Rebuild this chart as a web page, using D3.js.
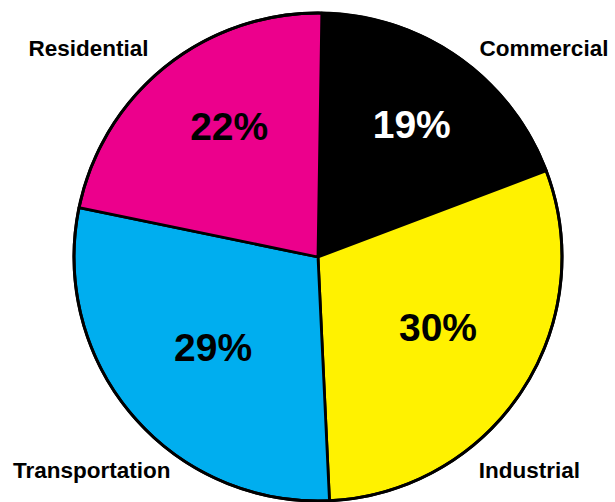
<!DOCTYPE html>
<html>
<head>
<meta charset="utf-8">
<script src="https://cdn.jsdelivr.net/npm/d3@7"></script>
<style>
  html, body { margin: 0; padding: 0; background: #fff; }
  svg { display: block; }
  text { font-family: "Liberation Sans", Arial, Helvetica, sans-serif; font-weight: bold; }
</style>
</head>
<body>
<svg id="chart" width="615" height="502"></svg>
<script>
// Data
const categories = ["Commercial", "Industrial", "Transportation", "Residential"];
const values = [19, 30, 29, 22];
const pctLabels = ["19%", "30%", "29%", "22%"];
const colors = ["#000000", "#FFF200", "#00AEEF", "#EC008C"];
const pctTextColors = ["#ffffff", "#000000", "#000000", "#000000"];

// Layout
const W = 615, H = 502;
const cx = 318, cy = 257, R = 244;
const startDeg = 0.9;
const pctRadius = [163, 139, 138, 158];
const pctAngleOffsetDeg = [0, -3, 0, 4.5];
const catPos = [[544, 56], [529.5, 477.5], [91.7, 477.5], [88.5, 56]];

const svg = d3.select("#chart");
const g = svg.append("g").attr("transform", `translate(${cx},${cy})`);

const start = startDeg * Math.PI / 180;
const pie = d3.pie().sort(null).startAngle(start).endAngle(start + 2 * Math.PI);
const arcs = pie(values);
const arc = d3.arc().innerRadius(0).outerRadius(R);

g.selectAll("path.slice")
  .data(arcs)
  .enter().append("path")
  .attr("class", "slice")
  .attr("d", arc)
  .attr("fill", (d, i) => colors[i])
  .attr("stroke", "#000")
  .attr("stroke-width", 2.8)
  .attr("stroke-linejoin", "round");

g.append("circle")
  .attr("r", R)
  .attr("fill", "none")
  .attr("stroke", "#000")
  .attr("stroke-width", 3);

g.selectAll("text.pct")
  .data(arcs)
  .enter().append("text")
  .attr("class", "pct")
  .attr("transform", (d, i) => {
    const a = (d.startAngle + d.endAngle) / 2 + pctAngleOffsetDeg[i] * Math.PI / 180;
    const x = pctRadius[i] * Math.sin(a), y = -pctRadius[i] * Math.cos(a);
    return `translate(${x},${y})`;
  })
  .attr("text-anchor", "middle")
  .attr("dy", "0.36em")
  .attr("font-size", 39)
  .attr("fill", (d, i) => pctTextColors[i])
  .text((d, i) => pctLabels[i]);

svg.selectAll("text.cat")
  .data(categories)
  .enter().append("text")
  .attr("class", "cat")
  .attr("x", (d, i) => catPos[i][0])
  .attr("y", (d, i) => catPos[i][1])
  .attr("text-anchor", "middle")
  .attr("font-size", 22.5)
  .attr("fill", "#000")
  .text(d => d);
</script>
</body>
</html>
